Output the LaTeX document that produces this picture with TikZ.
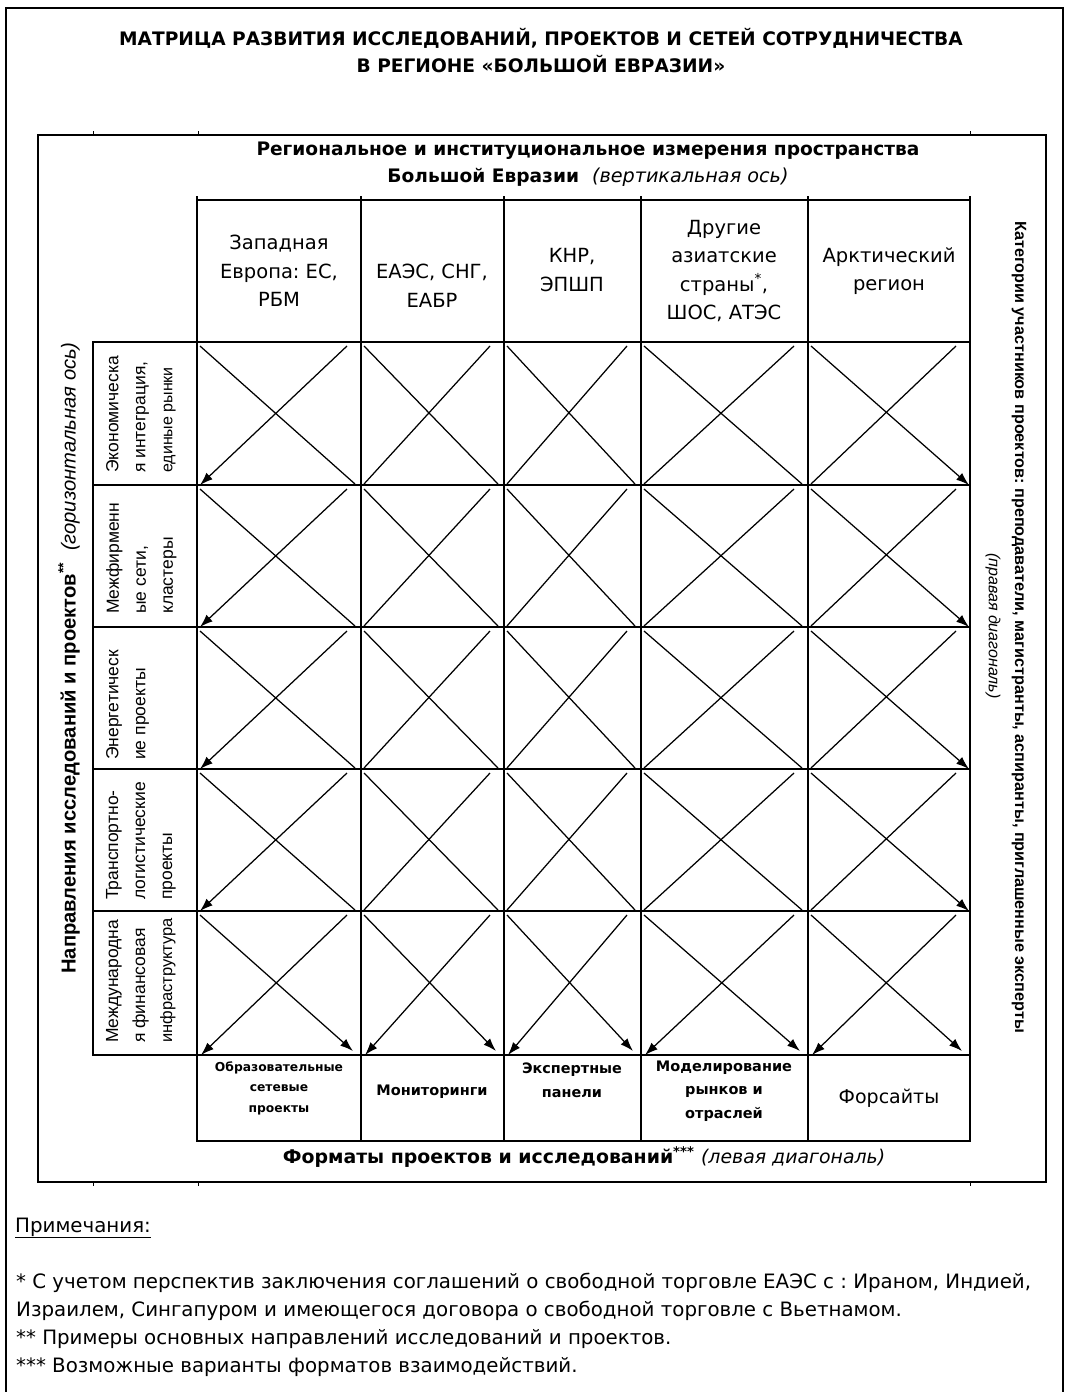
\documentclass[tikz,border=0pt]{standalone}
\usepackage{fontspec}
\setmainfont{DejaVu Sans}
\newfontfamily\arialf{Liberation Sans}
\usetikzlibrary{arrows.meta}
\newcommand\myfs[2]{\fontsize{#1}{#2}\selectfont}
\frenchspacing
\tikzset{
  gridline/.style={line width=1.3pt, line cap=rect},
  frameline/.style={line width=1.5pt},
  diag/.style={line width=1.25pt},
  arr/.style={-{Latex[length=13pt,width=9pt]}},
  txt/.style={inner sep=0pt, align=center},
  colhead/.style={txt, font=\myfs{19.5}{28.5}},
  rowlab/.style={rotate=90, anchor=north west, align=left, inner sep=0pt, font=\arialf\myfs{17.5}{27}},
  fmtcell/.style={txt, font=\bfseries\myfs{14.5}{23.5}},
  note/.style={anchor=west, inner sep=0pt, font=\myfs{19.8}{28}},
}
\begin{document}
\begin{tikzpicture}[x=1pt,y=-1pt]
\useasboundingbox (0,0) rectangle (1068,1392);
\fill[white] (0,0) rectangle (1068,1392);

% outer frame
\draw[line width=1.2pt] (6,1393) -- (6,8) -- (1063,8) -- (1063,1393);

% title
\node[txt, font=\bfseries\myfs{18.6}{27}] (title) at (541,50.5)
  {МАТРИЦА РАЗВИТИЯ ИССЛЕДОВАНИЙ, ПРОЕКТОВ И СЕТЕЙ СОТРУДНИЧЕСТВА\\В РЕГИОНЕ «БОЛЬШОЙ ЕВРАЗИИ»};

% inner frame
\draw[frameline] (38,135) rectangle (1046,1182);
\foreach \x in {93,198,970}{
  \draw[line width=1pt] (\x,131) -- (\x,135);
  \draw[line width=1pt] (\x,1182) -- (\x,1186);
}

% header text
\node[txt, font=\bfseries\myfs{18.6}{27}] (hdr) at (588,164)
  {Региональное и институциональное измерения пространства\\Большой Евразии \ {\mdseries\itshape\myfs{19.2}{27}(вертикальная ось)}};

% column header cells
\draw[gridline] (197,200) rectangle (970,342);
\foreach \x in {197,361,504,641,808,970}{
  \draw[gridline] (\x,197) -- (\x,342);
}
% matrix grid with row labels
\draw[gridline] (93,342) rectangle (970,1055);
\foreach \x in {197,361,504,641,808}{
  \draw[gridline] (\x,342) -- (\x,1055);
}
\foreach \y in {485,627,769,911}{
  \draw[gridline] (93,\y) -- (970,\y);
}
% format cells
\draw[gridline] (197,1055) rectangle (970,1141);
\foreach \x in {361,504,641,808}{
  \draw[gridline] (\x,1055) -- (\x,1141);
}

% diagonals
\foreach \xl/\xr [count=\ci] in {197/361,361/504,504/641,641/808,808/970}{
  \foreach \yt/\yb [count=\ri] in {342/485,485/627,627/769,769/911,911/1055}{
    \ifnum\ri<5
      \ifnum\ci<5
        \draw[diag] (\xl+3,\yt+4) -- (\xr-6,\yb-1);
      \else
        \draw[diag,arr] (\xl+3,\yt+4) -- (\xr-1,\yb);
      \fi
      \ifnum\ci>1
        \draw[diag] (\xr-14,\yt+4) -- (\xl+3,\yb-1);
      \else
        \draw[diag,arr] (\xr-14,\yt+4) -- (\xl+3,\yb);
      \fi
    \else
      \draw[diag,arr] (\xl+3,\yt+4) -- (\xr-8,\yb-4);
      \draw[diag,arr] (\xr-14,\yt+4) -- (\xl+4,\yb);
    \fi
  }
}

% column headers
\node[colhead] (c1) at (279,271) {Западная\\Европа: ЕС,\\РБМ};
\node[colhead] (c2) at (432,286) {ЕАЭС, СНГ,\\ЕАБР};
\node[colhead] (c3) at (572,270) {КНР,\\ЭПШП};
\node[colhead] (c4) at (724,271) {Другие\\азиатские\\страны\textsuperscript{*},\\ШОС, АТЭС};
\node[colhead] (c5) at (889,271) {Арктический\\регион};

% row labels
\node[rowlab] (r1) at (106,473) {Экономическа\\я интеграция,\\{\myfs{16}{27}единые рынки}};
\node[rowlab] (r2) at (106,614) {Межфирменн\\ые сети,\\кластеры};
\node[rowlab] (r3) at (106,760) {Энергетическ\\ие проекты};
\node[rowlab] (r4) at (106,900) {Транспортно-\\логистические\\проекты};
\node[rowlab] (r5) at (106,1043) {Международна\\я финансовая\\{\myfs{16.5}{27}инфраструктура}};

% format cells
\node[txt, font=\bfseries\myfs{12.3}{20.5}] (f1) at (279,1088) {Образовательные\\сетевые\\проекты};
\node[fmtcell] (f2) at (432,1092) {Мониторинги};
\node[txt, font=\bfseries\myfs{14.4}{24}] (f3) at (572,1080) {Экспертные\\панели};
\node[fmtcell] (f4) at (724,1091) {Моделирование\\рынков и\\отраслей};
\node[txt, font=\myfs{19}{23}] (f5) at (889,1098) {Форсайты};

% bottom axis label
\node[txt, font=\myfs{18.9}{22}] (fmt) at (584,1157)
  {\bfseries Форматы проектов и исследований\textsuperscript{***} {\mdseries\itshape (левая диагональ)}};

% left axis label
\node[txt, rotate=90, font=\arialf\myfs{20.2}{24}] (lax) at (69,658)
  {{\bfseries Направления исследований и проектов\textsuperscript{**}} \ {\itshape (горизонтальная ось)}};

% right axis label
\node[txt, rotate=-90, font=\arialf\bfseries\myfs{16.2}{20}] (rax) at (1019,627)
  {Категории участников проектов: преподаватели, магистранты, аспиранты, приглашенные эксперты};
\node[txt, rotate=-90, font=\arialf\itshape\myfs{16}{18}] (rdiag) at (993,626) {(правая диагональ)};

% notes
\node[note] (n0) at (15,1228) {\underline{Примечания:}};
\node[note] (n1) at (16,1283) {* С учетом перспектив заключения соглашений о свободной торговле ЕАЭС с : Ираном, Индией,};
\node[note] (n2) at (16,1311) {Израилем, Сингапуром и имеющегося договора о свободной торговле с Вьетнамом.};
\node[note] (n3) at (16,1339) {** Примеры основных направлений исследований и проектов.};
\node[note] (n4) at (16,1367) {*** Возможные варианты форматов взаимодействий.};
\end{tikzpicture}
\end{document}
